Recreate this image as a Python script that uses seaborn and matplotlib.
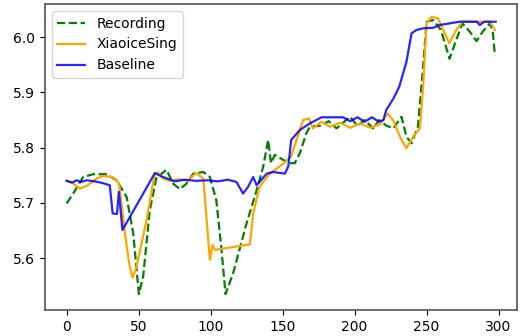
import matplotlib
matplotlib.use("Agg")
import matplotlib.pyplot as plt
import seaborn as sns

# frame index / pitch value pairs
rec_x = [0, 4.6, 11.5, 18.5, 27.8, 34.7, 41.7, 46.3, 50.2, 53.2, 57.8, 62.5, 66, 69.4,
         74, 78.7, 83.3, 88, 95, 99.5, 104, 107.6, 110.4, 115.7, 125, 132, 136.5, 140,
         142, 144.6, 150.4, 155, 158.5, 162, 166.5, 169, 177, 182, 187.5, 192, 196.7,
         202, 207, 213, 217, 222, 227, 232.6, 236, 239.6, 244, 247.6, 250, 254.6, 260,
         266, 270.6, 275, 280, 284.7, 289, 294, 296, 297.5]
rec_y = [5.699, 5.717, 5.747, 5.752, 5.752, 5.741, 5.711, 5.645, 5.535, 5.567, 5.687,
         5.747, 5.753, 5.760, 5.735, 5.725, 5.735, 5.753, 5.756, 5.747, 5.705, 5.615,
         5.535, 5.573, 5.663, 5.723, 5.765, 5.814, 5.772, 5.787, 5.778, 5.772, 5.772,
         5.790, 5.826, 5.838, 5.840, 5.848, 5.835, 5.845, 5.856, 5.840, 5.850, 5.835,
         5.850, 5.840, 5.835, 5.856, 5.820, 5.808, 5.838, 5.946, 6.028, 6.031, 6.013,
         5.961, 5.995, 6.025, 6.010, 5.993, 6.010, 6.025, 6.010, 5.967]

xs_x = [0, 4.6, 9.2, 14, 20.8, 25.4, 32, 36.5, 40.5, 43.5, 45.8, 48.6, 55.6, 61.3,
        63.6, 67, 72, 78, 84, 90, 95, 99.5, 101.4, 103, 127.3, 129.6, 134, 141, 148,
        156, 159.7, 164.3, 168.5, 171, 177, 183, 190, 197, 204, 211, 218, 223, 227,
        231.5, 236, 240.7, 245.4, 247.6, 250, 253.5, 258, 260, 265.8, 270.6, 275,
        284.7, 294, 297.5]
xs_y = [5.740, 5.735, 5.726, 5.731, 5.744, 5.749, 5.747, 5.735, 5.645, 5.590, 5.565,
        5.585, 5.669, 5.754, 5.755, 5.744, 5.740, 5.743, 5.740, 5.754, 5.744, 5.597,
        5.624, 5.615, 5.625, 5.681, 5.729, 5.753, 5.766, 5.784, 5.814, 5.850, 5.853,
        5.835, 5.847, 5.838, 5.845, 5.836, 5.844, 5.836, 5.843, 5.862, 5.849, 5.820,
        5.799, 5.820, 5.835, 5.910, 6.025, 6.037, 6.034, 6.022, 5.989, 6.013, 6.028,
        6.028, 6.028, 6.013]

base_x = [0, 4, 7, 10, 14, 19.7, 25, 30, 32, 35, 36.3, 38.8, 61.3, 66, 75, 82, 90,
          98, 105, 112, 118, 122.6, 126, 129.6, 132, 139, 143.5, 151.6, 154, 156, 162,
          169, 177, 192, 197, 202, 207, 212, 217, 220, 222, 227, 231, 236, 239.6, 243,
          247.6, 254.6, 259, 273, 285, 287, 290, 296, 298]
base_y = [5.740, 5.737, 5.741, 5.738, 5.741, 5.739, 5.736, 5.732, 5.681, 5.680, 5.720,
          5.651, 5.754, 5.748, 5.739, 5.742, 5.740, 5.741, 5.739, 5.742, 5.738, 5.717,
          5.729, 5.747, 5.732, 5.753, 5.756, 5.753, 5.766, 5.814, 5.832, 5.844, 5.855,
          5.855, 5.848, 5.855, 5.847, 5.855, 5.847, 5.850, 5.868, 5.889, 5.910, 5.955,
          6.007, 6.013, 6.016, 6.017, 6.022, 6.028, 6.028, 6.022, 6.028, 6.028, 6.028]

plt.figure(figsize=(5.23, 3.36), dpi=100)
ax = plt.gca()
sns.lineplot(x=rec_x, y=rec_y, color='green', linestyle='--', linewidth=1.6,
             label='Recording', ax=ax)
sns.lineplot(x=xs_x, y=xs_y, color='orange', linewidth=1.6, label='XiaoiceSing', ax=ax)
sns.lineplot(x=base_x, y=base_y, color='blue', linewidth=1.6, alpha=0.85,
             label='Baseline', ax=ax)

ax.set_xlim(-15, 313)
ax.set_ylim(5.506, 6.060)
ax.set_xticks([0, 50, 100, 150, 200, 250, 300])
ax.set_yticks([5.6, 5.7, 5.8, 5.9, 6.0])
for sp in ax.spines.values():
    sp.set_color('#555555')
    sp.set_linewidth(1.2)
ax.legend(loc='upper left')
plt.subplots_adjust(left=0.086, right=0.989, top=0.988, bottom=0.077)
plt.savefig('out.png', dpi=100)
